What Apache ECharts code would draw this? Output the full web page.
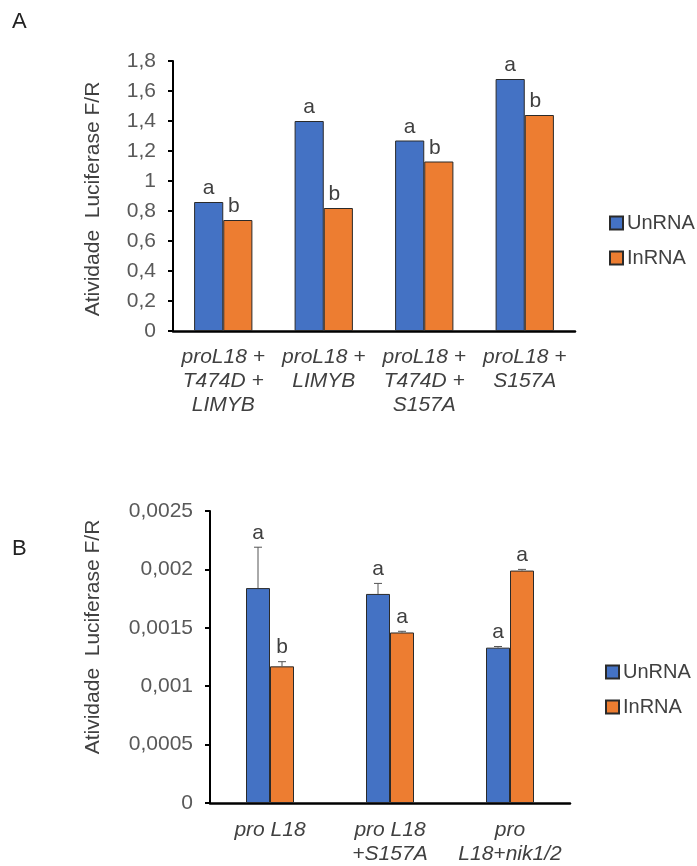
<!DOCTYPE html>
<html><head><meta charset="utf-8">
<script src="https://cdn.jsdelivr.net/npm/echarts@6/dist/echarts.min.js"></script>
<style>html,body{margin:0;padding:0;background:#fff}#c{width:697px;height:866px}</style>
</head><body><div id="c"></div>
<script>
// ---- Panel A data ----
const categoriesA = ['proL18 +\nT474D +\nLIMYB', 'proL18 +\nLIMYB', 'proL18 +\nT474D +\nS157A', 'proL18 +\nS157A'];
const unRNA_A = [0.86, 1.40, 1.27, 1.68];
const inRNA_A = [0.74, 0.82, 1.13, 1.44];
const lettersUnA = ['a', 'a', 'a', 'a'];
const lettersInA = ['b', 'b', 'b', 'b'];
const yMinA = 0, yMaxA = 1.8, yStepA = 0.2;

// ---- Panel B data ----
const categoriesB = ['pro L18', 'pro L18\n+S157A', 'pro\nL18+nik1/2'];
const unRNA_B = [0.00184, 0.00179, 0.00133];
const inRNA_B = [0.00117, 0.00146, 0.00199];
const unErr_B = [0.00035, 0.00009, 0.00001];
const inErr_B = [0.00004, 0.00001, 0.00001];
const lettersUnB = ['a', 'a', 'a'];
const lettersInB = ['b', 'a', 'a'];
const yMinB = 0, yMaxB = 0.0025, yStepB = 0.0005;

const seriesNames = ['UnRNA', 'InRNA'];

const BLUE = '#4472C4', ORANGE = '#ED7D31', BORDER = '#2a2a2a';
const FONT = 'Liberation Sans';
const TXT = '#404040', TICKTXT = '#595959';
const CAT_GAP_B = 0.6;

const chart = echarts.init(document.getElementById('c'), null, {renderer: 'canvas'});

function commaFmt(v) { return String(+v.toPrecision(6)).replace('.', ','); }

function yAxisCfg(gi, min, max, step) {
  return {
    type: 'value', gridIndex: gi, min: min, max: max, interval: step,
    splitLine: {show: false},
    axisLine: {show: true, lineStyle: {color: '#000', width: 2}},
    axisTick: {show: true, length: 5, lineStyle: {color: '#000', width: 2}},
    axisLabel: {fontSize: 21, color: TICKTXT, margin: 17, fontFamily: FONT, formatter: commaFmt}
  };
}
function xAxisCfg(gi, data, margin) {
  return {
    type: 'category', gridIndex: gi, data: data,
    axisTick: {show: false},
    axisLine: {lineStyle: {color: '#000', width: 2.5}},
    axisLabel: {interval: 0, fontSize: 21, lineHeight: 24, fontStyle: 'italic', color: TXT, margin: margin, fontFamily: FONT}
  };
}

function errRender(values, errs, letters, side) {
  return function (params, api) {
    const i = params.dataIndex;
    const band = api.size([1, 0])[0];
    const barW = band * (1 - CAT_GAP_B) / 2;
    const base = api.coord([i, values[i]]);
    const top = api.coord([i, values[i] + errs[i]]);
    const x = base[0] + side * barW / 2;
    return {
      type: 'group',
      children: [
        {type: 'line', shape: {x1: x, y1: base[1], x2: x, y2: top[1]}, style: {stroke: '#555', lineWidth: 1}},
        {type: 'line', shape: {x1: x - 4, y1: top[1], x2: x + 4, y2: top[1]}, style: {stroke: '#555', lineWidth: 1}},
        {type: 'text', x: x, y: top[1] - 4, style: {text: letters[i], fill: TXT, font: '21px ' + FONT, align: 'center', verticalAlign: 'bottom'}}
      ]
    };
  };
}

const option = {
  animation: false,
  backgroundColor: '#fff',
  textStyle: {fontFamily: FONT},
  grid: [
    {left: 173, right: 122, top: 61, bottom: 535},
    {left: 210, right: 127, top: 511, bottom: 61}
  ],
  legend: [
    {orient: 'vertical', left: 604, top: 208, itemWidth: 13, itemHeight: 13, itemGap: 15, icon: 'rect',
     textStyle: {fontSize: 20, color: TXT, fontFamily: FONT, padding: [0, 0, 0, -1]}, data: seriesNames},
    {orient: 'vertical', left: 600, top: 657, itemWidth: 13, itemHeight: 13, itemGap: 15, icon: 'rect',
     textStyle: {fontSize: 20, color: TXT, fontFamily: FONT, padding: [0, 0, 0, -1]}, data: seriesNames}
  ],
  xAxis: [xAxisCfg(0, categoriesA, 14), xAxisCfg(1, categoriesB, 15)],
  yAxis: [yAxisCfg(0, yMinA, yMaxA, yStepA), yAxisCfg(1, yMinB, yMaxB, yStepB)],
  graphic: [
    {type: 'text', left: 12, top: 11, style: {text: 'A', font: '22px ' + FONT, fill: '#222'}},
    {type: 'text', left: 12, top: 538, style: {text: 'B', font: '22px ' + FONT, fill: '#222'}},
    {type: 'text', x: 93, y: 199, rotation: Math.PI / 2,
     style: {text: 'Atividade  Luciferase F/R', font: '21px ' + FONT, fill: TXT, align: 'center', verticalAlign: 'middle'}},
    {type: 'text', x: 93, y: 637, rotation: Math.PI / 2,
     style: {text: 'Atividade  Luciferase F/R', font: '21px ' + FONT, fill: TXT, align: 'center', verticalAlign: 'middle'}}
  ],
  series: [
    {name: seriesNames[0], type: 'bar', xAxisIndex: 0, yAxisIndex: 0, data: unRNA_A,
     barGap: '0%', barCategoryGap: '42%',
     itemStyle: {color: BLUE, borderColor: BORDER, borderWidth: 1},
     label: {show: true, position: 'top', distance: 3, fontSize: 21, color: TXT, fontFamily: FONT,
             formatter: p => lettersUnA[p.dataIndex]}},
    {name: seriesNames[1], type: 'bar', xAxisIndex: 0, yAxisIndex: 0, data: inRNA_A,
     barGap: '0%', barCategoryGap: '42%',
     itemStyle: {color: ORANGE, borderColor: BORDER, borderWidth: 1},
     label: {show: true, position: 'top', distance: 3, offset: [-4, 0], fontSize: 21, color: TXT, fontFamily: FONT,
             formatter: p => lettersInA[p.dataIndex]}},
    {name: seriesNames[0], type: 'bar', xAxisIndex: 1, yAxisIndex: 1, data: unRNA_B,
     barGap: '0%', barCategoryGap: (CAT_GAP_B * 100) + '%',
     itemStyle: {color: BLUE, borderColor: BORDER, borderWidth: 1}},
    {name: seriesNames[1], type: 'bar', xAxisIndex: 1, yAxisIndex: 1, data: inRNA_B,
     barGap: '0%', barCategoryGap: (CAT_GAP_B * 100) + '%',
     itemStyle: {color: ORANGE, borderColor: BORDER, borderWidth: 1}},
    {type: 'custom', xAxisIndex: 1, yAxisIndex: 1, z: 5,
     data: unRNA_B.map((v, i) => [i, v]),
     renderItem: errRender(unRNA_B, unErr_B, lettersUnB, -1)},
    {type: 'custom', xAxisIndex: 1, yAxisIndex: 1, z: 5,
     data: inRNA_B.map((v, i) => [i, v]),
     renderItem: errRender(inRNA_B, inErr_B, lettersInB, 1)}
  ]
};
chart.setOption(option);
</script>
</body></html>
